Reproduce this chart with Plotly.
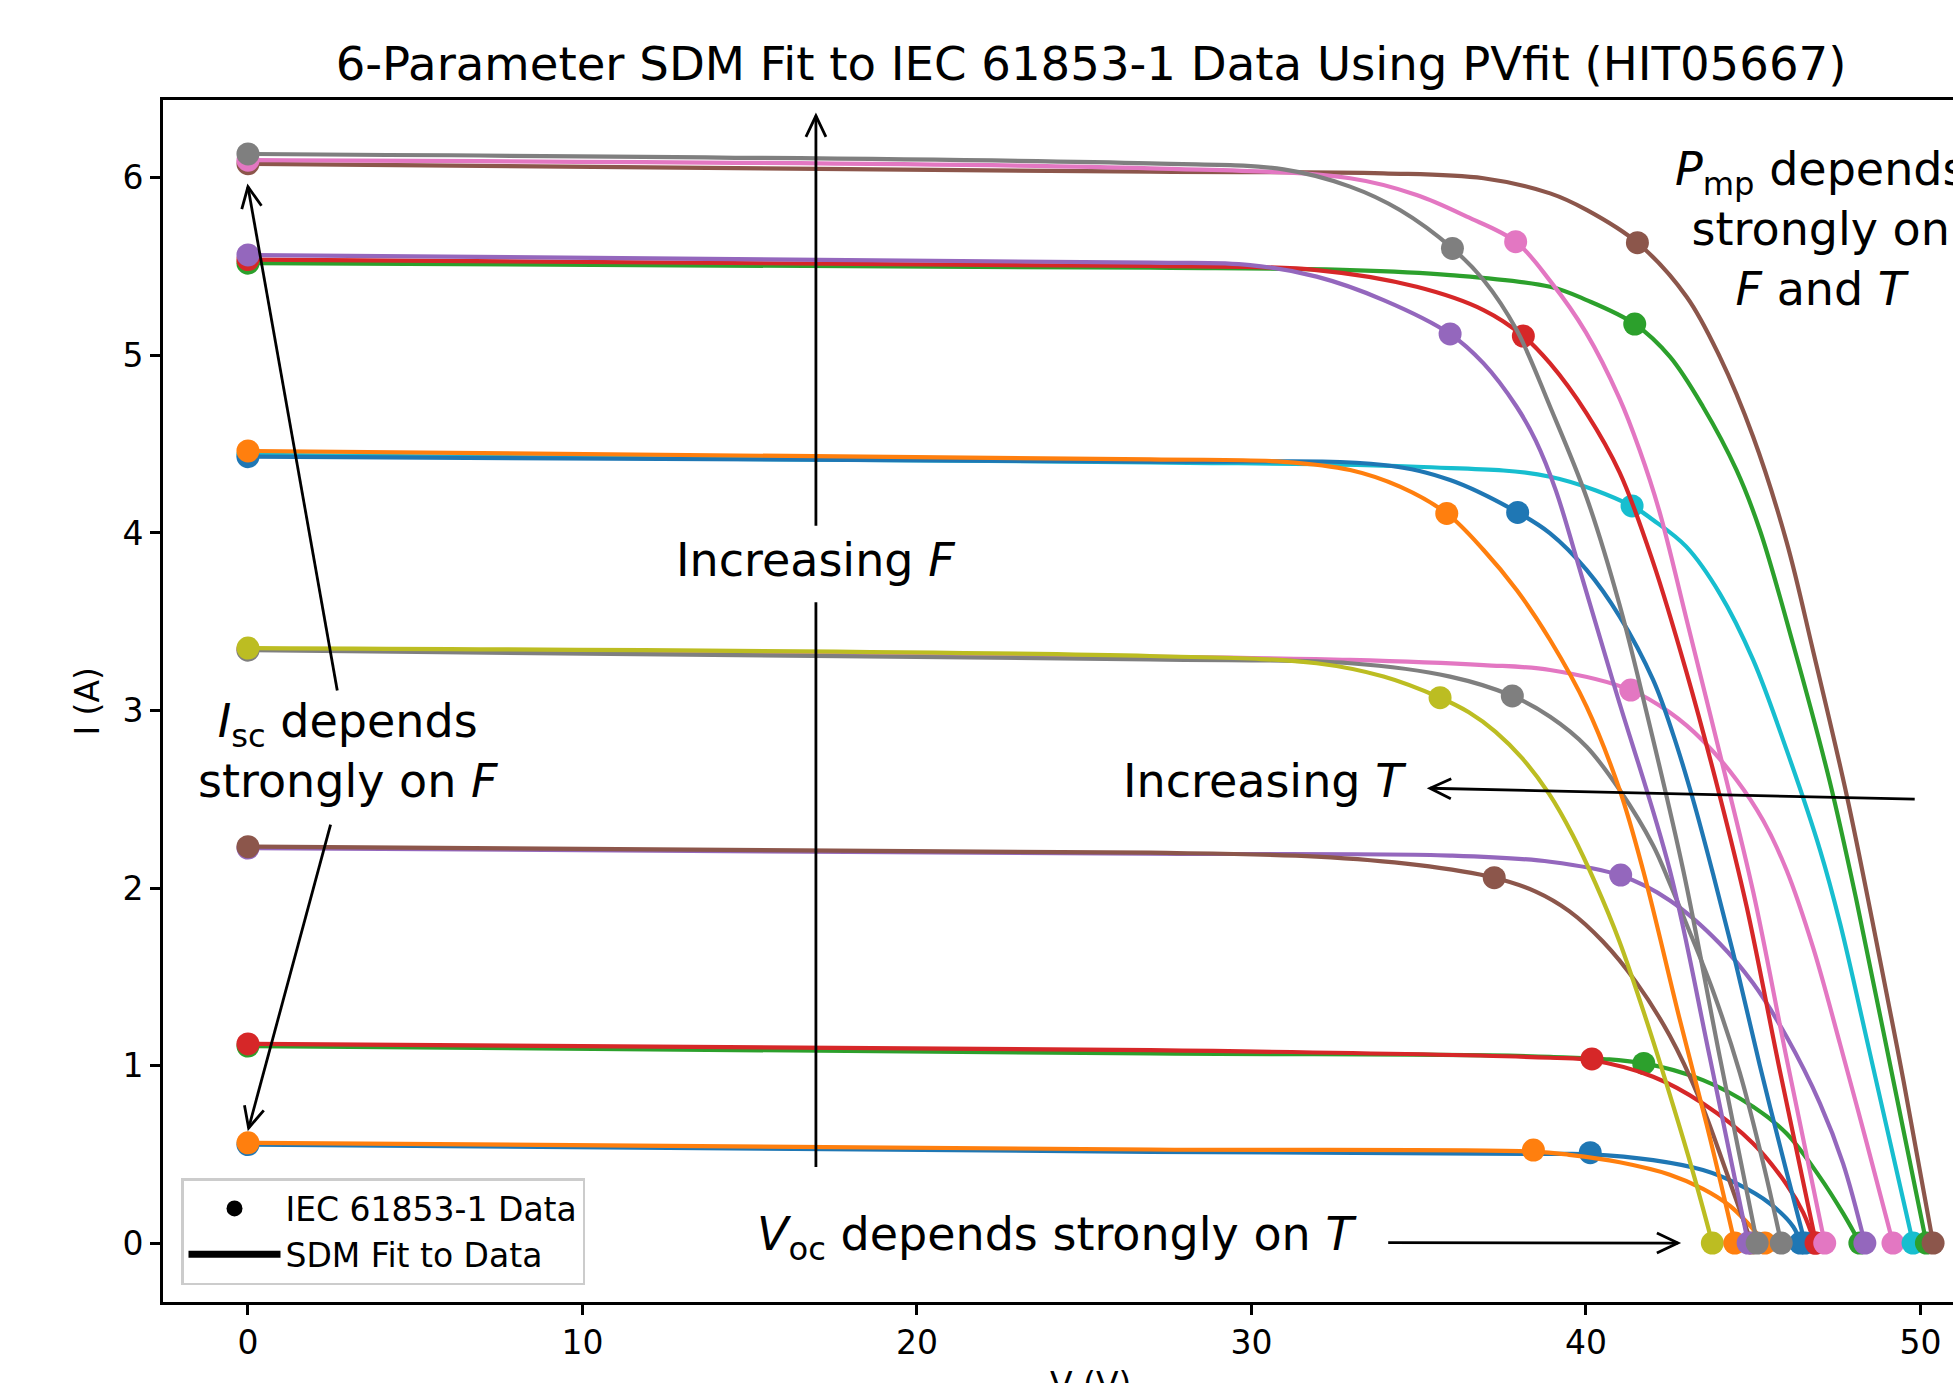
import math
import plotly.graph_objects as go

# ---------------- data ----------------
# plot order of the 18 measured conditions (irradiance group / temperature rank)
cond_names = ["G100 T1", "G100 T2", "G200 T1", "G200 T2", "G400 T1", "G400 T2",
              "G600 T1", "G600 T2", "G600 T3", "G800 T1", "G800 T2", "G800 T3",
              "G1000 T1", "G1000 T2", "G1000 T3", "G1100 T1", "G1100 T2", "G1100 T3"]
tab10 = ["#1f77b4", "#ff7f0e", "#2ca02c", "#d62728", "#9467bd",
         "#8c564b", "#e377c2", "#7f7f7f", "#bcbd22", "#17becf"]

# IEC 61853-1 data points: Isc (V=0), Pmp (Vmp, Imp), Voc (I=0)
isc = [0.555, 0.565, 1.110, 1.122, 2.225, 2.233, 3.345, 3.340, 3.352,
       4.440, 4.430, 4.462, 5.520, 5.540, 5.566, 6.080, 6.100, 6.135]
vmp = [40.13, 38.43, 41.73, 40.18, 41.04, 37.26, 41.34, 37.80, 35.64,
       41.38, 37.96, 35.84, 41.46, 38.13, 35.94, 41.54, 37.90, 36.01]
imp = [0.509, 0.524, 1.012, 1.037, 2.073, 2.058, 3.115, 3.082, 3.072,
       4.152, 4.116, 4.110, 5.177, 5.109, 5.121, 5.635, 5.641, 5.603]
voc = [46.41, 45.35, 48.19, 46.84, 48.34, 44.95, 49.18, 45.84, 43.78,
       49.78, 46.55, 44.45, 50.18, 46.88, 44.85, 50.38, 47.14, 45.12]

# SDM fit curves (V, I)
v_fit_01 = [0, 26.97, 38.93, 40.13, 42.01, 43.5, 44.5, 45.5, 46.2, 46.41]
i_fit_01 = [0.555, 0.514, 0.502, 0.500, 0.467, 0.411, 0.336, 0.223, 0.092, 0.0]
v_fit_02 = [0, 26.97, 38.43, 39.5, 41.01, 42.51, 43.5, 44.3, 44.8, 45.35]
i_fit_02 = [0.565, 0.527, 0.515, 0.497, 0.455, 0.385, 0.305, 0.21, 0.12, 0.0]
v_fit_03 = [0, 26.97, 38.93, 41.73, 43.5, 45.0, 46.0, 46.99, 47.69, 48.19]
i_fit_03 = [1.110, 1.068, 1.049, 1.012, 0.918, 0.768, 0.617, 0.373, 0.167, 0.0]
v_fit_04 = [0, 26.97, 38.93, 40.18, 42.01, 43.5, 45.0, 46.0, 46.5, 46.84]
i_fit_04 = [1.122, 1.087, 1.044, 1.030, 0.937, 0.786, 0.561, 0.33, 0.17, 0.0]
v_fit_05 = [0, 26.97, 35.94, 38.93, 41.04, 42.51, 44.0, 45.0, 46.0, 47.0, 47.69, 48.34]
i_fit_05 = [2.225, 2.193, 2.183, 2.148, 2.070, 1.930, 1.688, 1.463, 1.162, 0.786, 0.448, 0.0]
v_fit_06 = [0, 26.97, 31.95, 34.94, 37.26, 38.5, 39.5, 40.5, 41.5, 42.5, 43.4, 44.2, 44.95]
i_fit_06 = [2.233, 2.199, 2.177, 2.130, 2.058, 1.98, 1.87, 1.70, 1.47, 1.17, 0.81, 0.40, 0.0]
v_fit_07 = [0, 26.97, 32.95, 36.94, 38.93, 41.34, 42.5, 43.5, 44.5, 45.3, 46.0, 46.8, 47.6, 48.4, 49.18]
i_fit_07 = [3.345, 3.303, 3.285, 3.256, 3.228, 3.115, 2.99, 2.83, 2.61, 2.38, 2.10, 1.66, 1.12, 0.56, 0.0]
v_fit_08 = [0, 26.97, 32.95, 35.94, 37.80, 38.93, 40.02, 41.01, 42.01, 42.5, 43.0, 43.8, 44.6, 45.3, 45.84]
i_fit_08 = [3.340, 3.288, 3.266, 3.191, 3.082, 2.965, 2.796, 2.552, 2.24, 2.03, 1.80, 1.42, 0.96, 0.45, 0.0]
v_fit_09 = [0, 26.97, 31.95, 33.95, 35.64, 36.5, 37.3, 38.1, 38.9, 39.6, 40.3, 41.0, 41.8, 42.6, 43.2, 43.78]
i_fit_09 = [3.352, 3.307, 3.266, 3.191, 3.072, 2.99, 2.88, 2.73, 2.53, 2.30, 2.02, 1.70, 1.26, 0.78, 0.40, 0.0]
v_fit_10 = [0, 26.97, 34.94, 38.93, 41.38, 42.01, 43.0, 44.0, 45.0, 46.0, 47.0, 47.6, 48.49, 49.78]
i_fit_10 = [4.440, 4.398, 4.373, 4.317, 4.152, 4.073, 3.923, 3.660, 3.285, 2.778, 2.214, 1.80, 1.07, 0.0]
v_fit_11 = [0, 26.97, 33.95, 35.94, 37.96, 38.93, 40.02, 41.01, 42.01, 42.6, 43.2, 43.8, 44.5, 45.2, 46.0, 46.55]
i_fit_11 = [4.430, 4.402, 4.383, 4.298, 4.116, 3.998, 3.792, 3.529, 3.172, 2.87, 2.50, 2.08, 1.56, 1.0, 0.40, 0.0]
v_fit_12 = [0, 26.97, 30.96, 32.95, 34.44, 35.84, 36.94, 37.93, 38.93, 40.02, 41.01, 41.71, 42.81, 43.70, 44.45]
i_fit_12 = [4.462, 4.415, 4.401, 4.355, 4.261, 4.110, 3.904, 3.679, 3.397, 3.022, 2.552, 2.10, 1.256, 0.599, 0.0]
v_fit_13 = [0, 26.97, 32.95, 35.94, 38.93, 40.02, 41.46, 42.51, 43.5, 44.5, 45.2, 46.2, 47.29, 48.1, 49.1, 50.18]
i_fit_13 = [5.520, 5.494, 5.481, 5.453, 5.387, 5.312, 5.177, 4.993, 4.711, 4.355, 4.017, 3.37, 2.60, 1.92, 1.00, 0.0]
v_fit_14 = [0, 26.97, 31.95, 34.94, 36.94, 38.13, 38.93, 40.02, 41.01, 42.0, 43.0, 44.0, 44.8, 45.8, 46.88]
i_fit_14 = [5.540, 5.504, 5.481, 5.387, 5.256, 5.109, 4.955, 4.674, 4.34, 3.84, 3.22, 2.52, 1.90, 0.97, 0.0]
v_fit_15 = [0, 26.97, 29.96, 31.95, 33.95, 35.94, 36.94, 37.93, 38.5, 39.1, 39.9, 40.91, 42.51, 43.7, 44.85]
i_fit_15 = [5.566, 5.523, 5.509, 5.444, 5.312, 5.121, 4.955, 4.711, 4.52, 4.24, 3.74, 3.10, 2.10, 1.05, 0.0]
v_fit_16 = [0, 26.97, 33.95, 36.94, 38.93, 40.02, 41.54, 43.01, 44.0, 45.0, 46.0, 46.8, 47.8, 48.6, 49.5, 50.38]
i_fit_16 = [6.080, 6.035, 6.026, 5.998, 5.913, 5.820, 5.635, 5.331, 4.993, 4.542, 3.95, 3.33, 2.52, 1.78, 0.91, 0.0]
v_fit_17 = [0, 26.97, 32.95, 34.94, 36.44, 37.90, 38.93, 40.0, 41.0, 41.6, 42.2, 43.0, 44.0, 45.0, 46.0, 47.14]
i_fit_17 = [6.100, 6.054, 5.998, 5.904, 5.782, 5.641, 5.42, 5.13, 4.76, 4.47, 4.12, 3.52, 2.76, 1.98, 1.04, 0.0]
v_fit_18 = [0, 26.97, 30.96, 32.95, 34.44, 36.01, 36.94, 37.93, 38.93, 40.02, 41.0, 41.8, 42.91, 44.0, 45.12]
i_fit_18 = [6.135, 6.082, 6.048, 5.951, 5.819, 5.603, 5.425, 5.143, 4.711, 4.20, 3.60, 3.0, 2.10, 1.05, 0.0]

fit_curves = [(v_fit_01, i_fit_01), (v_fit_02, i_fit_02), (v_fit_03, i_fit_03),
              (v_fit_04, i_fit_04), (v_fit_05, i_fit_05), (v_fit_06, i_fit_06),
              (v_fit_07, i_fit_07), (v_fit_08, i_fit_08), (v_fit_09, i_fit_09),
              (v_fit_10, i_fit_10), (v_fit_11, i_fit_11), (v_fit_12, i_fit_12),
              (v_fit_13, i_fit_13), (v_fit_14, i_fit_14), (v_fit_15, i_fit_15),
              (v_fit_16, i_fit_16), (v_fit_17, i_fit_17), (v_fit_18, i_fit_18)]

x_ticks = [0, 10, 20, 30, 40, 50]
y_ticks = [0, 1, 2, 3, 4, 5, 6]

# ---------------- layout geometry ----------------
W, H = 1953, 1383
ML, MR, MT, MB = 163, 0, 100, 81
X_RANGE = [-2.54, 50.975]
Y_RANGE = [-0.332, 6.439]
PXV = (W - ML - MR) / (X_RANGE[1] - X_RANGE[0])
PXA = (H - MT - MB) / (Y_RANGE[1] - Y_RANGE[0])
FONT = "DejaVu Sans"

fig = go.Figure()

for k, name in enumerate(cond_names):
    col = tab10[k % 10]
    vv, ii = fit_curves[k]
    fig.add_trace(go.Scatter(x=vv, y=ii, mode="lines", name=name + " fit",
                             line=dict(color=col, width=4.2, shape="spline", smoothing=1.0),
                             showlegend=False, hoverinfo="skip"))
    fig.add_trace(go.Scatter(x=[0, vmp[k], voc[k]], y=[isc[k], imp[k], 0],
                             mode="markers", name=name + " data",
                             marker=dict(color=col, size=23, line=dict(width=0)),
                             showlegend=False))

# legend entries
fig.add_trace(go.Scatter(x=[None], y=[None], mode="markers", name="IEC 61853-1 Data",
                         marker=dict(color="black", size=22)))
fig.add_trace(go.Scatter(x=[None], y=[None], mode="lines", name="SDM Fit to Data",
                         line=dict(color="black", width=7)))

# ---------------- annotation arrows ----------------
shapes = []


def arrow(tail, tip, head=True, lw=2.8, hl=21, hw=10):
    shapes.append(dict(type="line", xref="x", yref="y", x0=tail[0], y0=tail[1],
                       x1=tip[0], y1=tip[1], line=dict(color="black", width=lw)))
    if not head:
        return
    dx = (tip[0] - tail[0]) * PXV
    dy = -(tip[1] - tail[1]) * PXA
    L = math.hypot(dx, dy)
    ux, uy = dx / L, dy / L
    nx, ny = -uy, ux
    pts = []
    for s in (1, -1):
        px = -hl * ux + s * hw * nx
        py = -hl * uy + s * hw * ny
        pts.append((tip[0] + px / PXV, tip[1] - py / PXA))
    path = "M{:.5f},{:.5f} L{:.5f},{:.5f} L{:.5f},{:.5f}".format(
        pts[0][0], pts[0][1], tip[0], tip[1], pts[1][0], pts[1][1])
    shapes.append(dict(type="path", xref="x", yref="y", path=path,
                       line=dict(color="black", width=lw)))


arrow((16.98, 4.04), (16.98, 6.35))
arrow((16.98, 3.61), (16.98, 0.428), head=False)
arrow((2.67, 3.113), (0.0, 5.95))
arrow((2.47, 2.357), (0.02, 0.648))
arrow((49.83, 2.501), (35.34, 2.562))
arrow((34.09, 0.002), (42.75, 0.0))

ann_font = dict(family=FONT, size=46, color="black")
annotations = [
    dict(x=16.98, y=3.845, text="Increasing <i>F</i>"),
    dict(x=30.40, y=2.603, text="Increasing <i>T</i>"),
    dict(x=2.99, y=2.77, text="<i>I</i><sub>sc</sub> depends<br>strongly on <i>F</i>"),
    dict(x=47.03, y=5.71, text="<i>P</i><sub>mp</sub> depends<br>strongly on<br><i>F</i> and <i>T</i>"),
    dict(x=24.20, y=0.031, text="<i>V</i><sub>oc</sub> depends strongly on <i>T</i>"),
]
for a in annotations:
    a.update(xref="x", yref="y", showarrow=False, xanchor="center", yanchor="middle",
             align="center", font=ann_font)

# axis titles
annotations.append(dict(xref="paper", yref="y", x=0, y=3.05, xshift=-75, text="I (A)",
                        textangle=-90, showarrow=False, xanchor="center", yanchor="middle",
                        font=dict(family=FONT, size=33, color="black")))
annotations.append(dict(xref="x", yref="paper", x=25.2, y=0, yshift=-61, text="V (V)",
                        showarrow=False, xanchor="center", yanchor="top",
                        font=dict(family=FONT, size=33, color="black")))

fig.update_layout(
    width=W, height=H,
    margin=dict(l=ML, r=MR, t=MT, b=MB, pad=0),
    paper_bgcolor="white", plot_bgcolor="white",
    font=dict(family=FONT, size=33, color="black"),
    title=dict(text="6-Parameter SDM Fit to IEC 61853-1 Data Using PVfit (HIT05667)",
               xref="paper", x=(1091 - ML) / (W - ML - MR), xanchor="center",
               yref="container", y=1 - 63.5 / H, yanchor="middle",
               font=dict(family=FONT, size=46.6, color="black")),
    xaxis=dict(range=X_RANGE, tickvals=x_ticks, ticks="outside", ticklen=10, tickwidth=2.5,
               tickcolor="black", showline=True, linecolor="black", linewidth=2.7,
               mirror=True, showgrid=False, zeroline=False,
               tickfont=dict(family=FONT, size=33, color="black")),
    yaxis=dict(range=Y_RANGE, tickvals=y_ticks, ticks="outside", ticklen=10, tickwidth=2.5,
               tickcolor="black", showline=True, linecolor="black", linewidth=2.7,
               mirror=False, showgrid=False, zeroline=False,
               tickfont=dict(family=FONT, size=33, color="black")),
    showlegend=True,
    legend=dict(x=(181 - ML) / (W - ML - MR), y=(H - MB - 1178) / (H - MT - MB),
                xanchor="left", yanchor="top", bgcolor="white", bordercolor="#cccccc",
                borderwidth=2.5, font=dict(family=FONT, size=33, color="black"),
                itemwidth=92, traceorder="normal"),
    shapes=shapes,
    annotations=annotations,
)

fig.write_html("out.html", config={"displayModeBar": False},
               post_script="document.body.style.margin='0';document.body.style.overflow='hidden';")
